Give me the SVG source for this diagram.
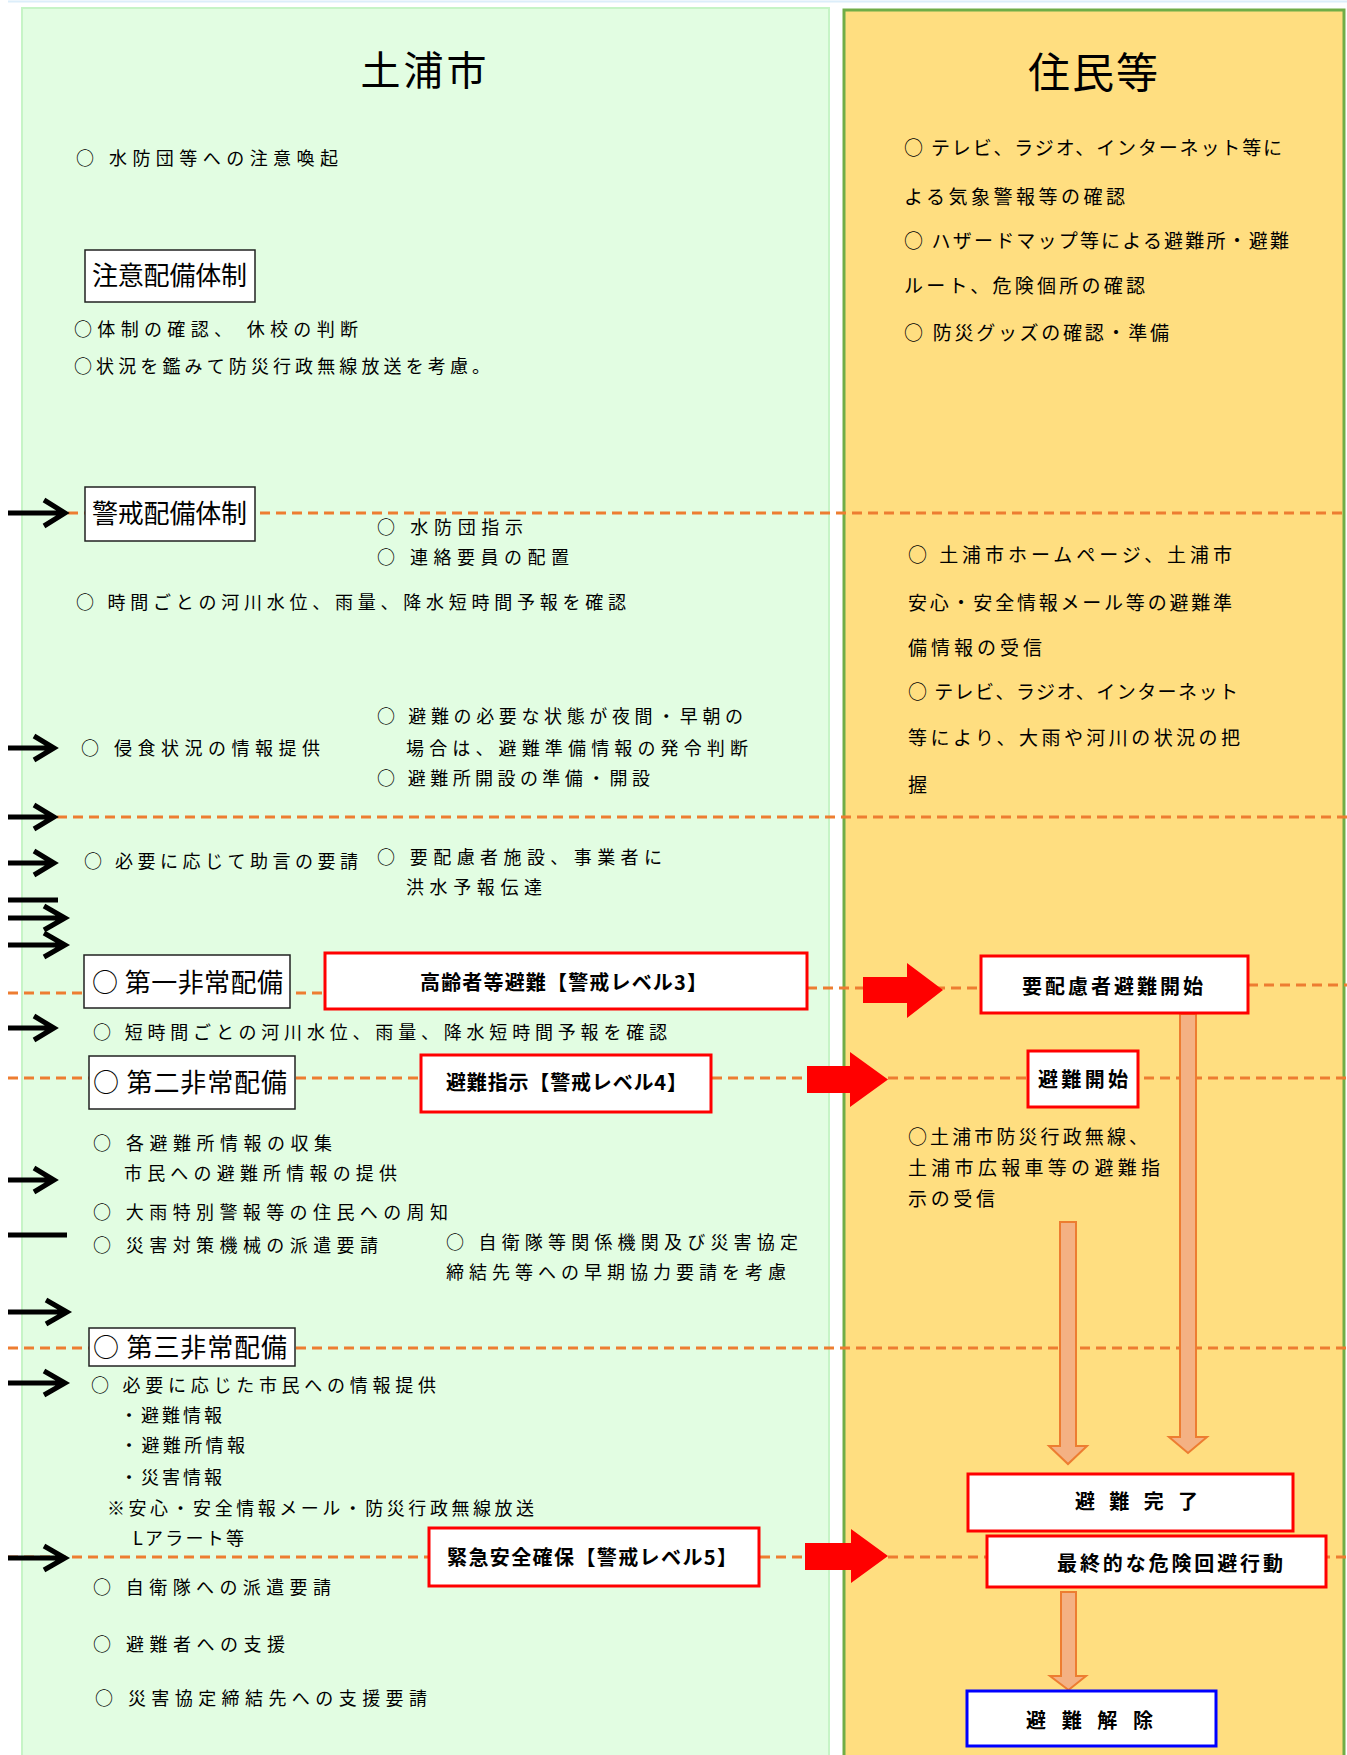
<svg xmlns="http://www.w3.org/2000/svg" width="1347" height="1755" viewBox="0 0 1347 1755">
<style>
text{font-family:"Noto Sans CJK JP","Noto Sans CJK SC",sans-serif;fill:#000}
.t{font-size:18px}
.r{font-size:19px}
.h{font-size:26px}
.b{font-size:20px;font-weight:bold}
.dash{stroke:#ED7D31;stroke-width:3;stroke-dasharray:10 6;fill:none}
.blk{stroke:#000;stroke-width:5;fill:none;stroke-linejoin:miter}
.bx{fill:#fff;stroke:#222;stroke-width:1.5}
.rbx{fill:#fff;stroke:#FF0000;stroke-width:3}
.bbx{fill:#fff;stroke:#0000FF;stroke-width:3}
.red{fill:#FF0000}
.org{fill:#F4B183;stroke:#ED7D31;stroke-width:2}
</style>
<rect x="0" y="0" width="1347" height="1755" fill="#fff"/>
<line x1="8" y1="1.5" x2="1347" y2="1.5" stroke="#DCEEFA" stroke-width="2"/>

<g id="lane-city">
<rect x="22" y="8" width="807" height="1752" fill="#E2FDE2" stroke="#C6F4C6" stroke-width="2"/>
<text x="425" y="85" font-size="40" text-anchor="middle" letter-spacing="3">土浦市</text>
</g>
<g id="lane-residents">
<rect x="844" y="10" width="500" height="1752" fill="#FFDE80" stroke="#70AD47" stroke-width="3"/>
<text x="1094" y="88" font-size="42" text-anchor="middle" letter-spacing="2">住民等</text>
</g>

<g id="connectors">
<line class="dash" x1="68" y1="513" x2="1347" y2="513"/>
<line class="dash" x1="57" y1="817" x2="1347" y2="817"/>
<path class="dash" d="M8 993 H325 M807 988 H981 M1248 985 H1347"/>
<line class="dash" x1="8" y1="1078" x2="1347" y2="1078"/>
<line class="dash" x1="8" y1="1348" x2="1347" y2="1348"/>
<line class="dash" x1="8" y1="1557" x2="1347" y2="1557"/>

<path class="blk" d="M8 513 H65 M44 500 L65 513 L44 526"/>
<path class="blk" d="M8 748 H54 M34 736 L54 748 L34 760"/>
<path class="blk" d="M8 817 H54 M34 805 L54 817 L34 829"/>
<path class="blk" d="M8 863 H54 M34 851 L54 863 L34 875"/>
<path class="blk" d="M8 900 H58"/>
<path class="blk" d="M8 918 H65 M44 906 L65 918 L44 930"/>
<path class="blk" d="M8 945 H65 M44 933 L65 945 L44 957"/>
<path class="blk" d="M8 1028 H54 M34 1016 L54 1028 L34 1040"/>
<path class="blk" d="M8 1180 H54 M34 1168 L54 1180 L34 1192"/>
<path class="blk" d="M8 1235 H67"/>
<path class="blk" d="M8 1312 H67 M46 1300 L67 1312 L46 1324"/>
<path class="blk" d="M8 1383 H65 M44 1371 L65 1383 L44 1395"/>
<path class="blk" d="M8 1558 H65 M44 1546 L65 1558 L44 1570"/>

<path class="red" d="M863 977 H907 V963 L943 990 L907 1018 V1003 H863 Z"/>
<path class="red" d="M807 1066 H850 V1052 L888 1079.5 L850 1107 V1093 H807 Z"/>
<path class="red" d="M805 1543 H851 V1529 L888 1556 L851 1583 V1570 H805 Z"/>

<path class="org" d="M1180 1014 H1196 V1437 H1207 L1188 1453 L1169 1437 H1180 Z"/>
<path class="org" d="M1060 1222 H1076 V1446 H1087 L1068 1464 L1049 1446 H1060 Z"/>
<path class="org" d="M1061 1592 H1076 V1676 H1086 L1068.5 1690 L1050 1676 H1061 Z"/>
</g>

<g id="city-texts">
<text class="t" x="76" y="165" textLength="262">○ 水防団等への注意喚起</text>
<text class="t" x="74" y="336" textLength="284">○体制の確認、 休校の判断</text>
<text class="t" x="74" y="373" textLength="416">○状況を鑑みて防災行政無線放送を考慮。</text>
<text class="t" x="377" y="534" textLength="146">○ 水防団指示</text>
<text class="t" x="377" y="564" textLength="192">○ 連絡要員の配置</text>
<text class="t" x="76" y="609" textLength="550">○ 時間ごとの河川水位、雨量、降水短時間予報を確認</text>
<text class="t" x="81" y="755" textLength="239">○ 侵食状況の情報提供</text>
<text class="t" x="377" y="723" textLength="366">○ 避難の必要な状態が夜間・早朝の</text>
<text class="t" x="406" y="755" textLength="342">場合は、避難準備情報の発令判断</text>
<text class="t" x="377" y="785" textLength="273">○ 避難所開設の準備・開設</text>
<text class="t" x="84" y="868" textLength="274">○ 必要に応じて助言の要請</text>
<text class="t" x="377" y="864" textLength="285">○ 要配慮者施設、事業者に</text>
<text class="t" x="406" y="894" textLength="136">洪水予報伝達</text>
<text class="t" x="93" y="1039" textLength="574">○ 短時間ごとの河川水位、雨量、降水短時間予報を確認</text>
<text class="t" x="93" y="1150" textLength="239">○ 各避難所情報の収集</text>
<text class="t" x="124" y="1180" textLength="273">市民への避難所情報の提供</text>
<text class="t" x="93" y="1219" textLength="355">○ 大雨特別警報等の住民への周知</text>
<text class="t" x="93" y="1252" textLength="285">○ 災害対策機械の派遣要請</text>
<text class="t" x="446" y="1249" textLength="352">○ 自衛隊等関係機関及び災害協定</text>
<text class="t" x="446" y="1279" textLength="340">締結先等への早期協力要請を考慮</text>
<text class="t" x="91" y="1392" textLength="345">○ 必要に応じた市民への情報提供</text>
<text class="t" x="120" y="1422" textLength="102">・避難情報</text>
<text class="t" x="120" y="1452" textLength="125">・避難所情報</text>
<text class="t" x="120" y="1484" textLength="102">・災害情報</text>
<text class="t" x="107" y="1515" textLength="427">※安心・安全情報メール・防災行政無線放送</text>
<text class="t" x="133" y="1545" textLength="111">Lアラート等</text>
<text class="t" x="93" y="1594" textLength="238">○ 自衛隊への派遣要請</text>
<text class="t" x="93" y="1651" textLength="192">○ 避難者への支援</text>
<text class="t" x="95" y="1705" textLength="332">○ 災害協定締結先への支援要請</text>
</g>

<g id="resident-texts">
<text class="r" x="904" y="155" textLength="378">○ テレビ、ラジオ、インターネット等に</text>
<text class="r" x="904" y="204" textLength="221">よる気象警報等の確認</text>
<text class="r" x="904" y="248" textLength="385">○ ハザードマップ等による避難所・避難</text>
<text class="r" x="904" y="293" textLength="241">ルート、危険個所の確認</text>
<text class="r" x="904" y="340" textLength="265">○ 防災グッズの確認・準備</text>
<text class="r" x="908" y="562" textLength="324">○ 土浦市ホームページ、土浦市</text>
<text class="r" x="908" y="610" textLength="324">安心・安全情報メール等の避難準</text>
<text class="r" x="908" y="655" textLength="134">備情報の受信</text>
<text class="r" x="908" y="699" textLength="330">○ テレビ、ラジオ、インターネット</text>
<text class="r" x="908" y="745" textLength="332">等により、大雨や河川の状況の把</text>
<text class="r" x="908" y="792">握</text>
<text class="r" x="908" y="1144" textLength="240">○土浦市防災行政無線、</text>
<text class="r" x="908" y="1175" textLength="252">土浦市広報車等の避難指</text>
<text class="r" x="908" y="1206" textLength="87">示の受信</text>
</g>

<g id="node-chui">
<rect class="bx" x="85" y="250" width="170" height="52"/>
<text class="h" x="92" y="285" textLength="155">注意配備体制</text>
</g>
<g id="node-keikai">
<rect class="bx" x="85" y="487" width="170" height="54"/>
<text class="h" x="92" y="523" textLength="155">警戒配備体制</text>
</g>
<g id="node-dai1">
<rect class="bx" x="84" y="955" width="206" height="53"/>
<text class="h" x="92" y="992" textLength="191">○ 第一非常配備</text>
</g>
<g id="node-dai2">
<rect class="bx" x="89" y="1056" width="206" height="53"/>
<text class="h" x="93" y="1092" textLength="194">○ 第二非常配備</text>
</g>
<g id="node-dai3">
<rect class="bx" x="89" y="1328" width="206" height="38"/>
<text class="h" x="93" y="1357" textLength="194">○ 第三非常配備</text>
</g>

<g id="node-level3">
<rect class="rbx" x="325" y="953" width="482" height="56"/>
<text class="b" x="420" y="990" textLength="287">高齢者等避難【警戒レベル3】</text>
</g>
<g id="node-level4">
<rect class="rbx" x="421" y="1055" width="290" height="57"/>
<text class="b" x="446" y="1090" textLength="241">避難指示【警戒レベル4】</text>
</g>
<g id="node-level5">
<rect class="rbx" x="429" y="1528" width="330" height="58"/>
<text class="b" x="447" y="1565" textLength="290">緊急安全確保【警戒レベル5】</text>
</g>
<g id="node-yohairyo">
<rect class="rbx" x="981" y="956" width="267" height="57"/>
<text class="b" x="1022" y="994" textLength="181">要配慮者避難開始</text>
</g>
<g id="node-hinan-kaishi">
<rect class="rbx" x="1028" y="1051" width="110" height="56"/>
<text class="b" x="1038" y="1087" textLength="90">避難開始</text>
</g>
<g id="node-kanryo">
<rect class="rbx" x="968" y="1474" width="325" height="57"/>
<text class="b" x="1075" y="1509" textLength="123">避 難 完 了</text>
</g>
<g id="node-saishu">
<rect class="rbx" x="987" y="1536" width="339" height="51"/>
<text class="b" x="1057" y="1571" textLength="226">最終的な危険回避行動</text>
</g>
<g id="node-kaijo">
<rect class="bbx" x="967" y="1691" width="249" height="55"/>
<text class="b" x="1026" y="1728" textLength="127">避 難 解 除</text>
</g>
</svg>
